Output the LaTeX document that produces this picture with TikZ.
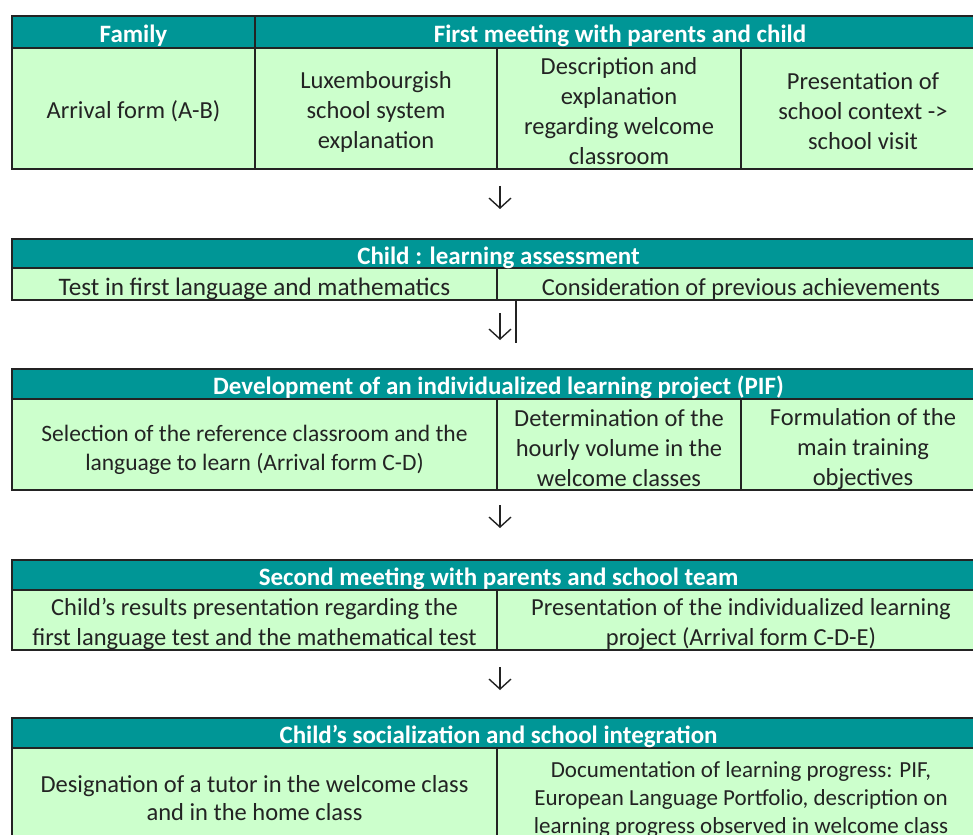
\documentclass[tikz,border=0pt]{standalone}
\usepackage{fontspec}
\setmainfont{Carlito}
\usetikzlibrary{arrows.meta}
\definecolor{hdrteal}{RGB}{0,150,150}
\definecolor{cellgreen}{RGB}{204,255,204}
\definecolor{ink}{RGB}{35,35,35}
\tikzset{
  cellbox/.style={draw=ink, fill=cellgreen, line width=1.3pt, inner sep=0pt},
  hdrbox/.style={cellbox, fill=hdrteal},
  celltext/.style={inner sep=0pt, align=center, text=ink, font=\fontsize{24.5}{30}\selectfont},
  hdrtext/.style={inner sep=0pt, align=center, text=white, font=\fontsize{25}{28}\selectfont\bfseries},
  flowarrow/.style={draw=ink, line width=1.4pt, -{Straight Barb[length=10pt,width=22pt,line width=1.4pt]}},
}
\begin{document}
\begin{tikzpicture}[x=1pt,y=-1pt]
\useasboundingbox (0,0) rectangle (973,834);
\clip (0,0) rectangle (973,834);
\fill[white] (0,0) rectangle (973,834);
% Block 1
\node[hdrbox, minimum width=243, minimum height=32] (h1a) at (133.5,32) {};
\node[hdrbox, minimum width=730, minimum height=32] (h1b) at (620,32) {};
\node[cellbox, minimum width=243, minimum height=121] (c11) at (133.5,108.5) {};
\node[cellbox, minimum width=242, minimum height=121] (c12) at (376,108.5) {};
\node[cellbox, minimum width=244, minimum height=121] (c13) at (619,108.5) {};
\node[cellbox, minimum width=244, minimum height=121] (c14) at (863,108.5) {};
\node[hdrtext] (th1a) at ([yshift=-4pt]h1a.center) {Family};
\node[hdrtext] (th1b) at ([yshift=-4pt]h1b.center) {First meeting with parents and child};
\node[celltext] (t11) at ([yshift=-3pt]c11.center) {Arrival form (A-B)};
\node[celltext] (t12) at ([yshift=-3pt]c12.center) {Luxembourgish\\school system\\explanation};
\node[celltext] (t13) at ([yshift=-3pt]c13.center) {Description and\\explanation\\regarding welcome\\classroom};
\node[celltext] (t14) at ([yshift=-3pt]c14.center) {Presentation of\\school context ->\\school visit};
% Block 2
\node[hdrbox, minimum width=973, minimum height=29] (h2) at (498.5,253.5) {};
\node[cellbox, minimum width=485, minimum height=32] (c21) at (254.5,284) {};
\node[cellbox, minimum width=488, minimum height=32] (c22) at (741,284) {};
\node[hdrtext] (th2) at ([yshift=-4pt]h2.center) {Child : learning assessment};
\node[celltext, font=\fontsize{25.2}{30}\selectfont] (t21) at ([yshift=-5pt]c21.center) {Test in first language and mathematics};
\node[celltext] (t22) at ([yshift=-5pt]c22.center) {Consideration of previous achievements};
% Block 3
\node[hdrbox, minimum width=973, minimum height=30] (h3) at (498.5,384) {};
\node[cellbox, minimum width=485, minimum height=91] (c31) at (254.5,444.5) {};
\node[cellbox, minimum width=244, minimum height=91] (c32) at (619,444.5) {};
\node[cellbox, minimum width=244, minimum height=91] (c33) at (863,444.5) {};
\node[hdrtext] (th3) at ([yshift=-3pt]h3.center) {Development of an individualized learning project (PIF)};
\node[celltext, font=\fontsize{23.5}{29}\selectfont] (t31) at ([yshift=-5pt]c31.center) {Selection of the reference classroom and the\\language to learn (Arrival form C-D)};
\node[celltext] (t32) at ([yshift=-4pt]c32.center) {Determination of the\\hourly volume in the\\welcome classes};
\node[celltext] (t33) at ([yshift=-5pt]c33.center) {Formulation of the\\main training\\objectives};
% Block 4
\node[hdrbox, minimum width=973, minimum height=30] (h4) at (498.5,575) {};
\node[cellbox, minimum width=485, minimum height=60] (c41) at (254.5,620) {};
\node[cellbox, minimum width=488, minimum height=60] (c42) at (741,620) {};
\node[hdrtext] (th4) at ([yshift=-4pt]h4.center) {Second meeting with parents and school team};
\node[celltext] (t41) at ([yshift=-4pt]c41.center) {Child’s results presentation regarding the\\first language test and the mathematical test};
\node[celltext] (t42) at ([yshift=-4pt]c42.center) {Presentation of the individualized learning\\project (Arrival form C-D-E)};
% Block 5
\node[hdrbox, minimum width=973, minimum height=30] (h5) at (498.5,733) {};
\node[cellbox, minimum width=485, minimum height=102] (c51) at (254.5,799) {};
\node[cellbox, minimum width=488, minimum height=102] (c52) at (741,799) {};
\node[hdrtext] (th5) at ([yshift=-4pt]h5.center) {Child’s socialization and school integration};
\node[celltext, font=\fontsize{24.5}{28}\selectfont] (t51) at ([yshift=1pt]c51.center) {Designation of a tutor in the welcome class\\and in the home class};
\node[celltext, font=\fontsize{23}{28}\selectfont] (t52) at ([yshift=0pt]c52.center) {Documentation of learning progress: PIF,\\European Language Portfolio, description on\\learning progress observed in welcome class};
% Arrows
\coordinate (a1s) at (500,186); \coordinate (a1e) at (500,209);
\coordinate (a2s) at (500,313); \coordinate (a2e) at (500,340);
\coordinate (a3s) at (500,505); \coordinate (a3e) at (500,528);
\coordinate (a4s) at (500,667); \coordinate (a4e) at (500,690);
\draw[flowarrow] (a1s) -- (a1e);
\draw[flowarrow] (a2s) -- (a2e);
\draw[flowarrow] (a3s) -- (a3e);
\draw[flowarrow] (a4s) -- (a4e);
\coordinate (tick) at (516,343);
\draw[draw=ink, line width=1.3pt] (c22.south west -| tick) -- (tick);
\end{tikzpicture}
\end{document}
